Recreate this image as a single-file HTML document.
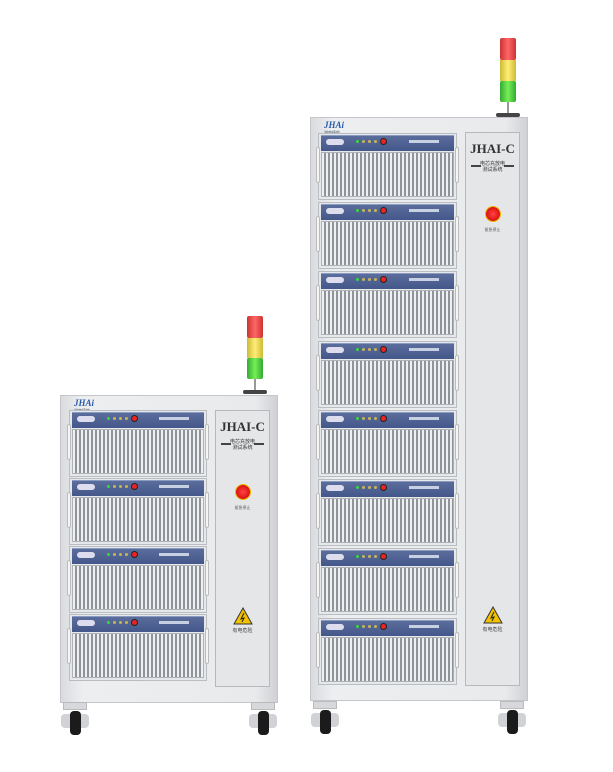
<!DOCTYPE html>
<html><head><meta charset="utf-8"><style>
body{margin:0;width:613px;height:772px;background:#fff;position:relative;overflow:hidden;font-family:"Liberation Sans","Noto Sans CJK SC",sans-serif}
.a{position:absolute;box-sizing:border-box}
.cab{background:linear-gradient(90deg,#d9dbde,#eceef0 10%,#e8eaec 90%,#cfd1d4);border:1px solid #c4c6c9}
.mod{background:#e6e8ea;border:1px solid #b9bcc0}
.band{background:linear-gradient(#5a6d9c,#44578a);border-top:1px solid #8a9ac0}
.gr{background:repeating-linear-gradient(90deg,#eef0f2 0 2px,#8f939a 2px 4px);border:1px solid #aeb1b6}
.pan{background:#e4e6e8;border:1px solid #b5b8bc}
.t{font-family:"Liberation Serif",serif;font-weight:bold;color:#333;text-align:center}
</style></head><body>
<div id="r"></div>
<script>
let h='';
function d(x,y,w,hh,c,st){h+=`<div class="a ${c||''}" style="left:${x}px;top:${y}px;width:${w}px;height:${hh}px;${st||''}"></div>`}
function tower(x,y,s){d(x,y,16*s,22*s,'','background:linear-gradient(90deg,#c33,#f66,#c33);border-radius:2px');d(x,y+22*s,16*s,20*s,'','background:linear-gradient(90deg,#cb3,#fe7,#cb3)');d(x,y+42*s,16*s,21*s,'','background:linear-gradient(90deg,#3a3,#7e5,#3a3);border-radius:2px');d(x+7,y+63*s,2,12,'','background:#999');d(x-4,y+74*s,24,4,'','background:#444;border-radius:2px')}
function cab(x,y,w,hh,mods,mx,mw,px,pw,pb){
 d(x,y,w,hh,'cab');
 h+=`<div class="a" style="left:${x+14}px;top:${y+3}px;font:italic bold 9px 'Liberation Serif';color:#2a5aa8">JHAi</div><div class="a" style="left:${x+14}px;top:${y+13}px;font-size:4px;color:#456">湖南精航</div>`;
 mods.forEach(t=>{d(mx,t,mw,67,'mod');d(mx+3,t+2,mw-6,16,'band');d(mx+3,t+19,mw-6,45,'gr');d(mx-2,t+14,4,36,'','background:#f5f5f5;border:1px solid #bbb;border-radius:2px');d(mx+mw-2,t+14,4,36,'','background:#f5f5f5;border:1px solid #bbb;border-radius:2px');
 d(mx+8,t+6,18,6,'','background:#dde;border-radius:3px');for(let i=0;i<5;i++)d(mx+38+i*6,t+7,3,3,'','border-radius:2px;background:'+(i?'#c9b45a':'#3d3'));d(mx+62,t+5,7,7,'','background:#e22;border-radius:50%;border:1px solid #222');d(mx+mw-48,t+7,30,3,'','background:#c8d0e4')});
 d(px,y+15,pw,pb-y-15,'pan');
 h+=`<div class="a t" style="left:${px}px;top:${y+24}px;width:${pw}px;font-size:13px">JHAI-C</div><div class="a" style="left:${px}px;top:${y+44}px;width:${pw}px;text-align:center;font-size:5px;color:#333;line-height:6px">电芯充放电<br>测试系统</div>`;
 d(px+6,y+48,10,2,'','background:#444');d(px+pw-16,y+48,10,2,'','background:#444');
 d(px+pw/2-8,y+89,16,16,'','background:radial-gradient(#f44,#d11 60%,#e8b400 62%);border-radius:50%');
 h+=`<div class="a" style="left:${px}px;top:${y+110}px;width:${pw}px;text-align:center;font-size:4px;color:#555">紧急停止</div>`;
 h+=`<svg class="a" style="left:${px+pw/2-10}px;top:${pb-80}px" width="20" height="18"><polygon points="10,1 19,17 1,17" fill="#f2c200" stroke="#333" stroke-width="1"/><path d="M11 6 L8 12 L11 11 L9 15" stroke="#222" fill="none"/></svg>`;
 h+=`<div class="a" style="left:${px}px;top:${pb-60}px;width:${pw}px;text-align:center;font-size:5px;color:#444">有电危险</div>`;
}
function wheel(x,y){d(x+2,y,24,8,'','background:#d6d8db;border:1px solid #bbb');d(x,y+12,28,14,'','background:#d0d2d5;border-radius:4px');d(x+9,y+9,11,24,'','background:#1b1b1b;border-radius:4px')}
tower(247,316,1);
cab(60,395,218,308,[410,478,546,614],69,138,215,55,687);
wheel(61,702);wheel(249,702);
tower(500,38,1.02);
cab(310,117,218,584,[133,202,271,341,410,479,548,618],318,139,465,55,686);
wheel(311,701);wheel(498,701);
document.getElementById('r').innerHTML=h;
</script>
</body></html>
